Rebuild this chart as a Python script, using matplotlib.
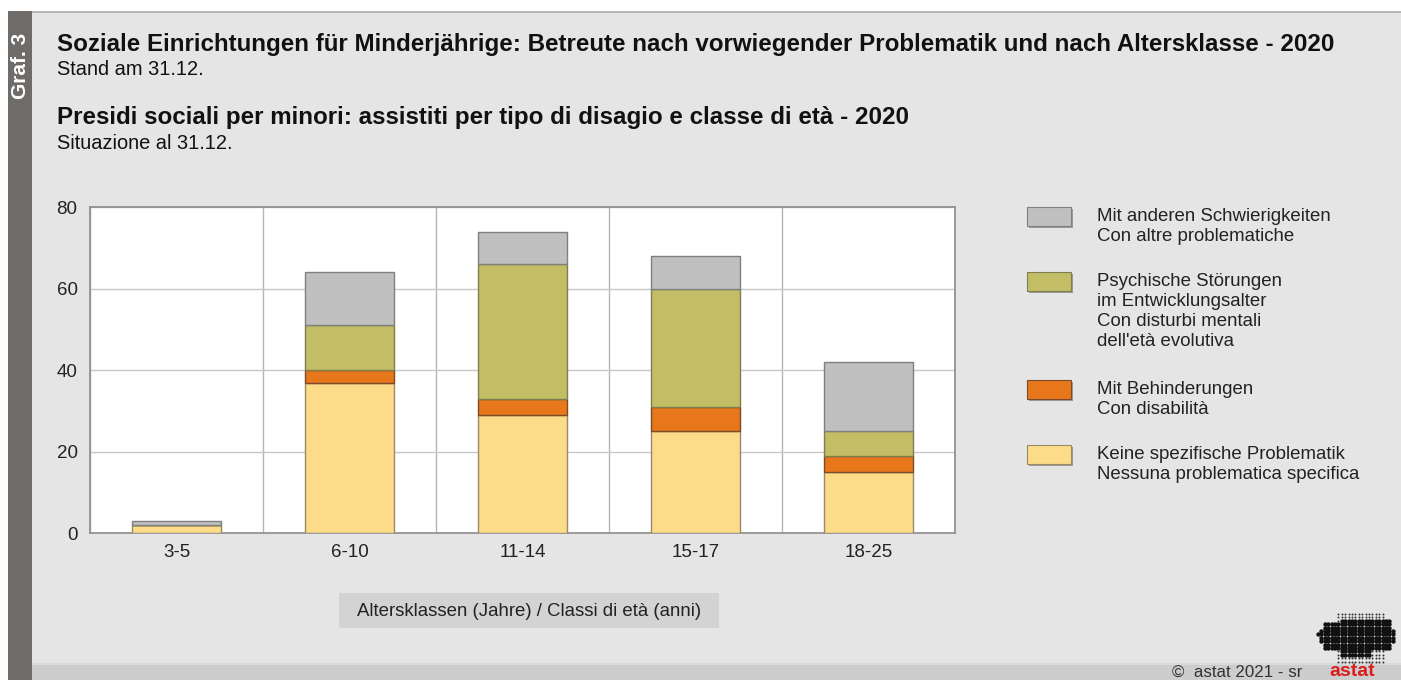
import matplotlib.pyplot as plt
from matplotlib.patches import Rectangle
import numpy as np

plt.rcParams["font.family"] = ["Liberation Sans", "DejaVu Sans"]

# data
age_classes = ["3-5", "6-10", "11-14", "15-17", "18-25"]
keine = [2, 37, 29, 25, 15]
behinderung = [0, 3, 4, 6, 4]
psychisch = [0, 11, 33, 29, 6]
andere = [1, 13, 8, 8, 17]

labels = [
    "Keine spezifische Problematik\nNessuna problematica specifica",
    "Mit Behinderungen\nCon disabilità",
    "Psychische Störungen\nim Entwicklungsalter\nCon disturbi mentali\ndell'età evolutiva",
    "Mit anderen Schwierigkeiten\nCon altre problematiche",
]
colors = ["#fcdc89", "#e8771c", "#c3be66", "#c0c0c0"]
edges = ["#9a8a66", "#7a4a2a", "#7f7c50", "#808080"]

W, H = 1401, 680
fig = plt.figure(figsize=(W / 100, H / 100), dpi=100)
fig.patch.set_facecolor("white")

def px(x0, y0, x1, y1, **kw):
    # rectangle in pixel coordinates (top-left origin)
    r = Rectangle((x0 / W, 1 - y1 / H), (x1 - x0) / W, (y1 - y0) / H,
                  transform=fig.transFigure, **kw)
    fig.add_artist(r)
    return r

# background panels
px(8, 11, W, H, facecolor="#e5e5e5", edgecolor="none", zorder=0)
px(8, 11, W, 12.5, facecolor="#b8b8b8", edgecolor="none", zorder=0)
px(8, 11, 32, H, facecolor="#6e6b68", edgecolor="none", zorder=1)
px(32, 664, W, H, facecolor="#cdcdcd", edgecolor="none", zorder=0)
px(32, 663, W, 664.5, facecolor="#dadada", edgecolor="none", zorder=0)

fig.text(20 / W, 1 - 66 / H, "Graf. 3", rotation=90, color="white",
         fontsize=15, fontweight="bold", ha="center", va="center")

# titles
fig.text(57 / W, 1 - 50.5 / H,
         "Soziale Einrichtungen für Minderjährige: Betreute nach vorwiegender Problematik und nach Altersklasse - 2020",
         fontsize=17.35, fontweight="bold", ha="left", va="baseline", color="#111111")
fig.text(57 / W, 1 - 75 / H, "Stand am 31.12.", fontsize=14.4,
         ha="left", va="baseline", color="#111111")
fig.text(57 / W, 1 - 124 / H,
         "Presidi sociali per minori: assistiti per tipo di disagio e classe di età - 2020",
         fontsize=17.35, fontweight="bold", ha="left", va="baseline", color="#111111")
fig.text(57 / W, 1 - 149 / H, "Situazione al 31.12.", fontsize=14.4,
         ha="left", va="baseline", color="#111111")

# chart
ax = fig.add_axes([90 / W, 1 - 533.3 / H, 865 / W, 326 / H])
ax.set_facecolor("white")
x = np.arange(len(age_classes))
bottom = np.zeros(len(age_classes))
for vals, c, e in zip([keine, behinderung, psychisch, andere], colors, edges):
    vals = np.array(vals, dtype=float)
    ax.bar(x, vals, width=0.51, bottom=bottom, color=c, edgecolor=e,
           linewidth=1.0, zorder=3)
    bottom += vals

ax.set_xlim(-0.5, len(age_classes) - 0.5)
ax.set_ylim(0, 80)
ax.set_yticks([0, 20, 40, 60, 80])
ax.set_xticks(x)
ax.set_xticklabels(age_classes)
ax.set_xticks(np.arange(len(age_classes) + 1) - 0.5, minor=True)
ax.grid(axis="y", which="major", color="#c8c8c8", linewidth=1, zorder=0)
ax.grid(axis="x", which="minor", color="#b4b4b4", linewidth=1, zorder=0)
ax.tick_params(axis="both", which="both", length=0, labelsize=13.5,
               colors="#222222")
ax.tick_params(axis="y", pad=9)
ax.tick_params(axis="x", pad=8)
for s in ax.spines.values():
    s.set_color("#8c8c8c")
    s.set_linewidth(1.2)

# axis label box
px(339, 593, 719, 628, facecolor="#d3d3d3", edgecolor="none", zorder=1)
fig.text(529 / W, 1 - 611 / H, "Altersklassen (Jahre) / Classi di età (anni)",
         fontsize=13.4, ha="center", va="center", color="#222222")

# legend (drawn by hand, top entry first)
legend_tops = [207, 272, 380, 445]
for i, top in enumerate(legend_tops):
    k = len(labels) - 1 - i
    px(1029, top + 2, 1073, top + 21, facecolor="#9a9a9a", edgecolor="none", zorder=2)
    px(1027, top, 1071, top + 19, facecolor=colors[k], edgecolor=edges[k],
       linewidth=0.8, zorder=3)
    fig.text(1097 / W, 1 - (top + 1) / H, labels[k], fontsize=13.4,
             ha="left", va="top", color="#222222", linespacing=1.24)

# footer
fig.text(1172 / W, 1 - 672 / H, "©  astat 2021 - sr", fontsize=12.2,
         ha="left", va="center", color="#333333")
fig.text(1352 / W, 1 - 671 / H, "astat", fontsize=14, fontweight="bold",
         ha="center", va="center", color="#d81e1e")

# small dotted logo shape (decoration)
big = fig.add_axes([0, 0, 1, 1], facecolor="none")
big.set_xlim(0, W)
big.set_ylim(H, 0)
big.axis("off")
gx, gy = np.meshgrid(np.arange(1318, 1398, 3.4), np.arange(614, 662, 3.4))
gx, gy = gx.ravel(), gy.ravel()
band = (gy > 624) & (gy < 648) & (np.abs(gx - 1357) < 40 - np.abs(gy - 636) * 0.6)
top_part = (gy >= 619) & (gy <= 624) & (gx > 1340) & (gx < 1390)
tail = (gy >= 648) & (gy < 656) & (gx > 1340) & (gx < 1372)
inside = band | top_part | tail
big.scatter(gx[inside], gy[inside], s=10, color="#111111", linewidths=0)
grid_area = (gx > 1338) & (gx < 1384)
big.scatter(gx[~inside & grid_area], gy[~inside & grid_area], s=2,
            color="#333333", linewidths=0)

fig.savefig("out.png", dpi=100, facecolor=fig.get_facecolor())
